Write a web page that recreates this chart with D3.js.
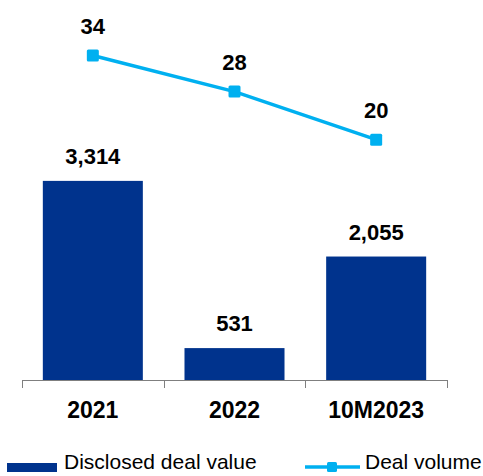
<!DOCTYPE html>
<html>
<head>
<meta charset="utf-8">
<script src="https://cdn.jsdelivr.net/npm/d3@7"></script>
<style>
  html, body { margin: 0; padding: 0; background: #fff; }
  svg { display: block; font-family: "Liberation Sans", Arial, sans-serif; }
</style>
</head>
<body>
<svg id="chart" width="483" height="476"></svg>
<script>
// Deal data by period
const categories = ["2021", "2022", "10M2023"];
const dealValue = [3314, 531, 2055];     // disclosed deal value
const dealVolume = [34, 28, 20];         // number of deals
const valueLabels = ["3,314", "531", "2,055"];
const legendLabels = ["Disclosed deal value", "Deal volume"];

const barColor = "#00338D";
const lineColor = "#00B0F0";

const svg = d3.select("#chart");
const plot = { left: 22, right: 447, top: 19.5, bottom: 380 };

const x = d3.scaleBand()
  .domain(categories)
  .range([plot.left, plot.right])
  .paddingInner(0.294)
  .paddingOuter(0.147);

const yBar = d3.scaleLinear().domain([0, 6000]).range([plot.bottom, plot.top]);
const yLine = d3.scaleLinear().domain([-20, 40]).range([plot.bottom, plot.top]);

// Bars
svg.append("g").selectAll("rect")
  .data(dealValue)
  .join("rect")
  .attr("x", (d, i) => x(categories[i]))
  .attr("y", d => yBar(d))
  .attr("width", x.bandwidth())
  .attr("height", d => yBar(0) - yBar(d))
  .attr("fill", barColor);

// Bar value labels
svg.append("g").selectAll("text")
  .data(dealValue)
  .join("text")
  .attr("x", (d, i) => x(categories[i]) + x.bandwidth() / 2)
  .attr("y", d => yBar(d) - 17)
  .attr("text-anchor", "middle")
  .attr("font-size", 22)
  .attr("font-weight", "bold")
  .attr("fill", "#000")
  .text((d, i) => valueLabels[i]);

// Category axis
const axis = svg.append("g");
axis.append("line")
  .attr("x1", plot.left).attr("x2", plot.right)
  .attr("y1", plot.bottom + 0.5).attr("y2", plot.bottom + 0.5)
  .attr("stroke", "#7f7f7f").attr("stroke-width", 1);
const tickPos = d3.range(categories.length + 1).map(i => plot.left + i * x.step());
axis.selectAll("line.tick")
  .data(tickPos)
  .join("line")
  .attr("class", "tick")
  .attr("x1", d => Math.round(d) + 0.5).attr("x2", d => Math.round(d) + 0.5)
  .attr("y1", plot.bottom).attr("y2", plot.bottom + 8)
  .attr("stroke", "#7f7f7f").attr("stroke-width", 1);
axis.selectAll("text")
  .data(categories)
  .join("text")
  .attr("x", d => x(d) + x.bandwidth() / 2)
  .attr("y", 418)
  .attr("text-anchor", "middle")
  .attr("font-size", 23)
  .attr("font-weight", "bold")
  .attr("fill", "#000")
  .text(d => d);

// Deal volume line
const cx = (d, i) => x(categories[i]) + x.bandwidth() / 2;
const line = d3.line()
  .x((d, i) => cx(d, i))
  .y(d => yLine(d));
svg.append("path")
  .datum(dealVolume)
  .attr("d", line)
  .attr("fill", "none")
  .attr("stroke", lineColor)
  .attr("stroke-width", 3.5);

svg.append("g").selectAll("rect")
  .data(dealVolume)
  .join("rect")
  .attr("x", (d, i) => cx(d, i) - 6)
  .attr("y", d => yLine(d) - 6)
  .attr("width", 12).attr("height", 12)
  .attr("rx", 1.5)
  .attr("fill", lineColor);

svg.append("g").selectAll("text")
  .data(dealVolume)
  .join("text")
  .attr("x", (d, i) => cx(d, i))
  .attr("y", d => yLine(d) - 22)
  .attr("text-anchor", "middle")
  .attr("font-size", 22)
  .attr("font-weight", "bold")
  .attr("fill", "#000")
  .text(d => d);

// Legend
const legend = svg.append("g");
legend.append("rect")
  .attr("x", 7).attr("y", 463).attr("width", 50).attr("height", 9)
  .attr("fill", barColor);
legend.append("text")
  .attr("x", 64).attr("y", 469)
  .attr("font-size", 21).attr("fill", "#000")
  .text(legendLabels[0]);
legend.append("line")
  .attr("x1", 305).attr("x2", 360).attr("y1", 467).attr("y2", 467)
  .attr("stroke", lineColor).attr("stroke-width", 3.5);
legend.append("rect")
  .attr("x", 327).attr("y", 462).attr("width", 10).attr("height", 10)
  .attr("rx", 1.5).attr("fill", lineColor);
legend.append("text")
  .attr("x", 365).attr("y", 469)
  .attr("font-size", 21).attr("fill", "#000")
  .text(legendLabels[1]);
</script>
</body>
</html>
